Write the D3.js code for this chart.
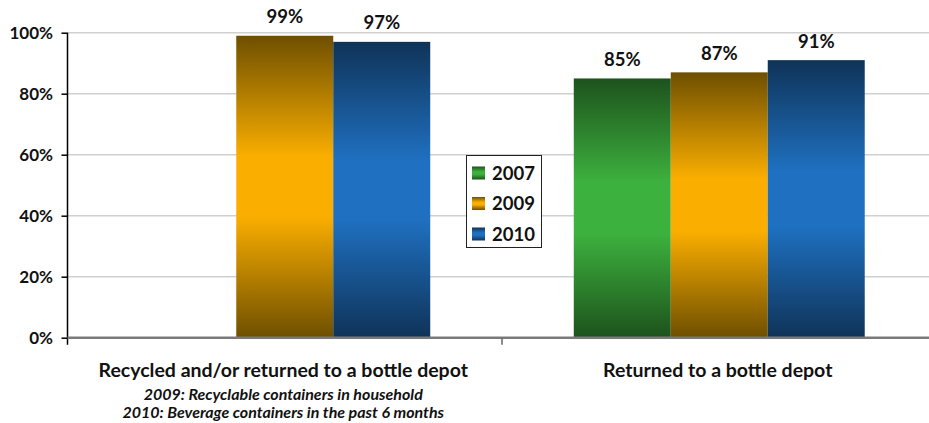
<!DOCTYPE html>
<html><head><meta charset="utf-8">
<script src="https://cdn.jsdelivr.net/npm/d3@7"></script>
<style>
html,body{margin:0;padding:0;background:#fff;}
svg{display:block;font-family:Lato,"Open Sans",sans-serif;}
</style></head>
<body>
<svg id="chart" width="929" height="423"></svg>
<script>
const categories = ["Recycled and/or returned to a bottle depot", "Returned to a bottle depot"];
const subtitles = [["2009: Recyclable containers in household", "2010: Beverage containers in the past 6 months"], []];
const seriesNames = ["2007", "2009", "2010"];
const values2007 = [null, 85];
const values2009 = [99, 87];
const values2010 = [97, 91];
const yTicks = [0, 20, 40, 60, 80, 100];

(function() {
const seriesValues = {"2007": values2007, "2009": values2009, "2010": values2010};
const colors = {
  "2007": {edge: "#1d521d", mid: "#3db13d"},
  "2009": {edge: "#6e4f00", mid: "#faae00"},
  "2010": {edge: "#0f3358", mid: "#1f70c0"}
};

const svg = d3.select("#chart");
const defs = svg.append("defs");
seriesNames.forEach(s => {
  const g = defs.append("linearGradient").attr("id", "g" + s)
    .attr("x1", 0).attr("y1", 0).attr("x2", 0).attr("y2", 1);
  g.append("stop").attr("offset", "0%").attr("stop-color", colors[s].edge);
  g.append("stop").attr("offset", "40%").attr("stop-color", colors[s].mid);
  g.append("stop").attr("offset", "60%").attr("stop-color", colors[s].mid);
  g.append("stop").attr("offset", "100%").attr("stop-color", colors[s].edge);
});

const pLeft = 67.5, pRight = 936.5, pTop = 32.7, pBottom = 337.7;
const x0 = d3.scaleBand().domain(categories).range([pLeft, pRight]).paddingInner(0).paddingOuter(0);
const x1 = d3.scaleBand().domain(seriesNames).range([0, x0.bandwidth()]).paddingInner(0).paddingOuter(0.74);
const y = d3.scaleLinear().domain([0, 100]).range([pBottom, pTop]);

// gridlines
svg.append("g").selectAll("line").data(yTicks.filter(t => t > 0)).join("line")
  .attr("x1", pLeft).attr("x2", 929).attr("y1", d => y(d)).attr("y2", d => y(d))
  .attr("stroke", "#d0d0d0").attr("stroke-width", 1.5);

// bars
const groups = svg.append("g").selectAll("g").data(categories).join("g")
  .attr("transform", d => `translate(${x0(d)},0)`);
groups.each(function(cat, ci) {
  const g = d3.select(this);
  const data = seriesNames.map(s => ({s, v: seriesValues[s][ci]})).filter(d => d.v != null);
  g.selectAll("rect").data(data).join("rect")
    .attr("x", d => x1(d.s)).attr("width", x1.bandwidth())
    .attr("y", d => y(d.v)).attr("height", d => y(0) - y(d.v))
    .attr("fill", d => `url(#g${d.s})`);
  g.selectAll("text.val").data(data).join("text").attr("class", "val")
    .attr("x", d => x1(d.s) + x1.bandwidth() / 2).attr("y", d => y(d.v) - 12.5)
    .attr("text-anchor", "middle").attr("font-weight", "bold").attr("font-size", 18.5)
    .attr("fill", "#111").text(d => d.v + "%");
});

// y axis
const yAxis = d3.axisLeft(y).tickValues(yTicks).tickFormat(d => d + "%").tickSize(6).tickPadding(8.5);
const ya = svg.append("g").attr("transform", `translate(${pLeft},0)`).call(yAxis);
ya.select(".domain").attr("stroke", "#000").attr("stroke-width", 1.5)
  .attr("d", `M0,${pTop}V${pBottom + 7}`);
ya.selectAll(".tick line").attr("stroke", "#000").attr("stroke-width", 1.5);
ya.selectAll(".tick text").attr("font-family", "Lato").attr("font-weight", "bold").attr("font-size", 17).attr("fill", "#111");

// baseline
svg.append("line").attr("x1", pLeft).attr("x2", 929).attr("y1", y(0)).attr("y2", y(0))
  .attr("stroke", "#7a7a7a").attr("stroke-width", 2.5);
// category divider tick
svg.append("line").attr("x1", x0(categories[1])).attr("x2", x0(categories[1]))
  .attr("y1", y(0)).attr("y2", y(0) + 7).attr("stroke", "#666").attr("stroke-width", 1.5);

// category labels
categories.forEach((c, i) => {
  const cx = x0(c) + x0.bandwidth() / 2 - 1.5;
  svg.append("text").attr("x", cx).attr("y", 377).attr("text-anchor", "middle")
    .attr("font-weight", "bold").attr("font-size", 19.5).attr("fill", "#111").text(c);
  subtitles[i].forEach((t, j) => {
    svg.append("text").attr("x", cx).attr("y", 400 + j * 18).attr("text-anchor", "middle")
      .attr("font-weight", "bold").attr("font-style", "italic").attr("font-size", 16)
      .attr("fill", "#111").text(t);
  });
});

// legend
const lg = svg.append("g");
lg.append("rect").attr("x", 466.5).attr("y", 155.5).attr("width", 75).attr("height", 92)
  .attr("fill", "#fff").attr("stroke", "#222").attr("stroke-width", 1);
seriesNames.forEach((s, i) => {
  const cy = 173 + i * 30.5;
  lg.append("rect").attr("x", 472).attr("y", cy - 6.5).attr("width", 13).attr("height", 13)
    .attr("fill", `url(#g${s})`);
  lg.append("text").attr("x", 492).attr("y", cy + 6.5).attr("font-weight", "bold")
    .attr("font-size", 18.5).attr("fill", "#111").text(s);
});
})();
</script>
</body></html>
